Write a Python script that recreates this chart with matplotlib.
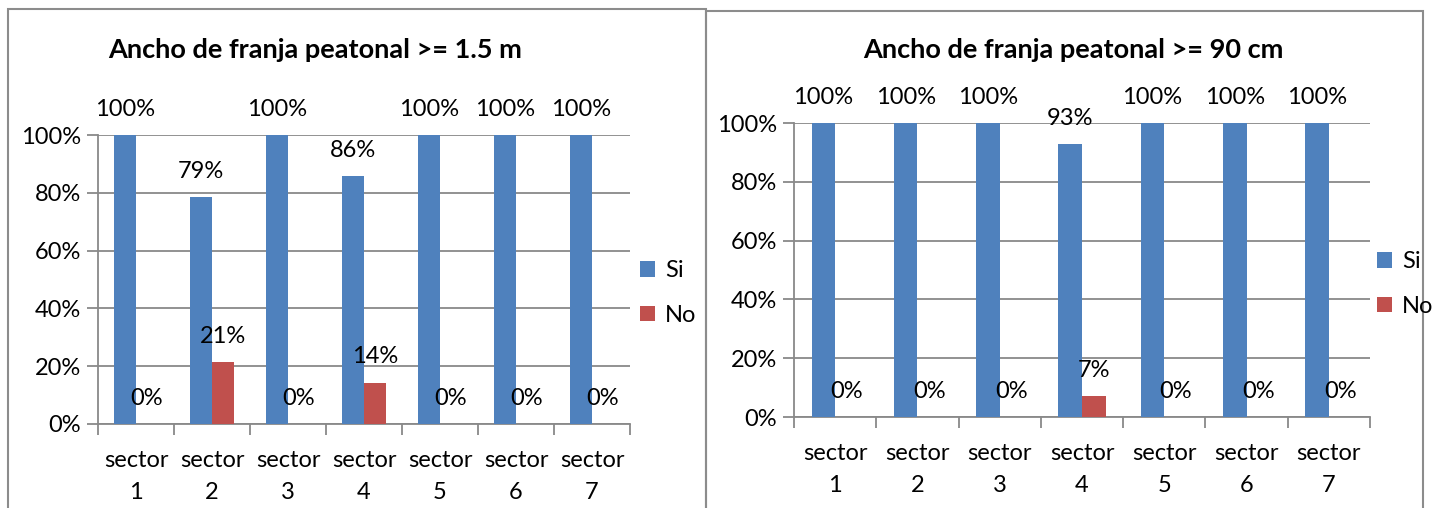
import matplotlib
matplotlib.use("Agg")
import matplotlib.pyplot as plt
from matplotlib.patches import Rectangle
import numpy as np

plt.rcParams['font.family'] = ['Lato', 'DejaVu Sans']

sectors = ["sector\n1", "sector\n2", "sector\n3", "sector\n4", "sector\n5", "sector\n6", "sector\n7"]
series_names = ["Si", "No"]

# left chart: ancho >= 1.5 m
si_15 = [1.0, 0.786, 1.0, 0.857, 1.0, 1.0, 1.0]
no_15 = [0.0, 0.214, 0.0, 0.143, 0.0, 0.0, 0.0]

# right chart: ancho >= 90 cm
si_90 = [1.0, 1.0, 1.0, 0.929, 1.0, 1.0, 1.0]
no_90 = [0.0, 0.0, 0.0, 0.071, 0.0, 0.0, 0.0]

BLUE = "#4F81BD"
RED = "#C0504D"
GRID = "#898989"
W, H = 1434, 508
FS = 17


def px_axes(fig, x0, x1, ytop, ybot):
    return fig.add_axes([x0 / W, 1 - ybot / H, (x1 - x0) / W, (ybot - ytop) / H])


def draw_chart(ax, si, no, title, title_xy, legend_xy, fig):
    x = np.arange(len(sectors))
    bw = 1 / 3.5
    b1 = ax.bar(x - bw / 2, si, bw, color=BLUE, label=series_names[0], zorder=3)
    b2 = ax.bar(x + bw / 2, no, bw, color=RED, label=series_names[1], zorder=3)
    for bars in (b1, b2):
        for rect in bars:
            v = rect.get_height()
            ax.annotate(f"{round(v * 100):d}%", (rect.get_x() + rect.get_width() / 2, v),
                        xytext=(0, 18.5), textcoords="offset points",
                        ha="center", va="center", fontsize=FS, zorder=4)
    ax.set_xlim(-0.5, len(sectors) - 0.5)
    ax.set_ylim(0, 1)
    ax.set_yticks(np.arange(0, 1.01, 0.2))
    ax.set_yticklabels([f"{int(round(t * 100))}%" for t in np.arange(0, 1.01, 0.2)])
    ax.set_xticks(x)
    ax.set_xticklabels(sectors, linespacing=1.6)
    ax.set_xticks(np.arange(-0.5, len(sectors), 1), minor=True)
    ax.tick_params(axis="x", which="major", length=0, pad=19, labelsize=FS)
    ax.tick_params(axis="x", which="minor", length=8, color=GRID, width=1.3)
    ax.tick_params(axis="y", length=8, color=GRID, width=1.3, labelsize=FS, pad=4)
    ax.yaxis.grid(True, color=GRID, linewidth=1.3, zorder=0)
    ax.set_axisbelow(True)
    for s in ("top", "right"):
        ax.spines[s].set_visible(False)
    for s in ("left", "bottom"):
        ax.spines[s].set_color(GRID)
        ax.spines[s].set_linewidth(1.3)
    fig.text(title_xy[0] / W, 1 - title_xy[1] / H, title, ha="center", va="center",
             fontsize=19.5, fontweight="bold")
    fig.legend(handles=[b1, b2], loc="center left",
               bbox_to_anchor=(legend_xy[0] / W, 1 - legend_xy[1] / H),
               frameon=False, fontsize=FS, handlelength=0.65, handleheight=0.65,
               handletextpad=0.4, labelspacing=1.0, borderaxespad=0, borderpad=0)


fig = plt.figure(figsize=(W / 100, H / 100), dpi=100)

fig.add_artist(Rectangle((8 / W, -0.1), (706 - 8) / W, 1 - 9 / H + 0.1,
                         transform=fig.transFigure, fill=False, edgecolor="#8c8c8c", linewidth=1.5))
fig.add_artist(Rectangle((706 / W, -0.1), 0.5, 1 - 11 / H + 0.1,
                         transform=fig.transFigure, fill=False, edgecolor="#8c8c8c", linewidth=1.5))

ax1 = px_axes(fig, 98, 630, 135, 424)
draw_chart(ax1, si_15, no_15, "Ancho de franja peatonal >= 1.5 m", (315, 50), (640, 293), fig)

ax2 = px_axes(fig, 794, 1370, 123, 417)
draw_chart(ax2, si_90, no_90, "Ancho de franja peatonal >= 90 cm", (1073, 50), (1377, 284), fig)

fig.savefig("out.png", dpi=100)
